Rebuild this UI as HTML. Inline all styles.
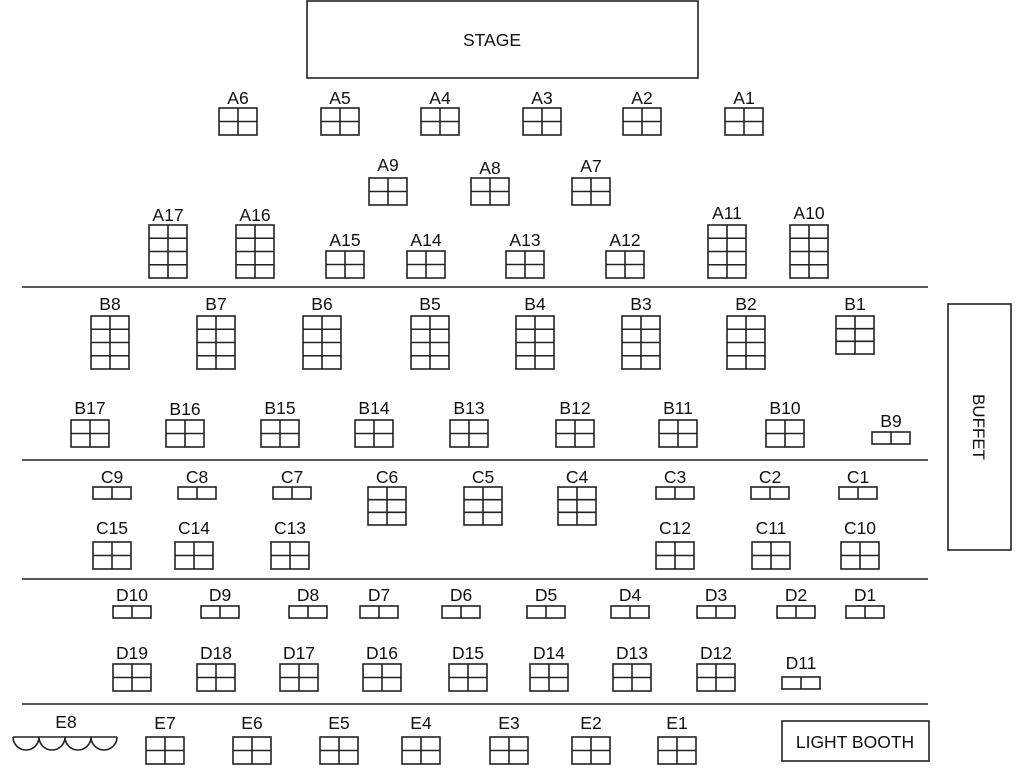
<!DOCTYPE html>
<html><head><meta charset="utf-8"><style>
html,body{margin:0;padding:0;background:#fff}
svg{display:block}
text{font-family:"Liberation Sans",sans-serif;font-size:17.5px;fill:#111;text-anchor:middle}
</style></head><body>
<svg width="1024" height="783" viewBox="0 0 1024 783" xmlns="http://www.w3.org/2000/svg">
<defs>
<g id="t4" fill="none" stroke="#222" stroke-width="1.6"><rect x="0" y="0" width="38" height="27"/><line x1="19" y1="0" x2="19" y2="27"/><line x1="0" y1="13.5" x2="38" y2="13.5"/></g>
<g id="t8" fill="none" stroke="#222" stroke-width="1.6"><rect x="0" y="0" width="38" height="53"/><line x1="19" y1="0" x2="19" y2="53"/><line x1="0" y1="13.25" x2="38" y2="13.25"/><line x1="0" y1="26.5" x2="38" y2="26.5"/><line x1="0" y1="39.75" x2="38" y2="39.75"/></g>
<g id="t6" fill="none" stroke="#222" stroke-width="1.6"><rect x="0" y="0" width="38" height="38"/><line x1="19" y1="0" x2="19" y2="38"/><line x1="0" y1="12.7" x2="38" y2="12.7"/><line x1="0" y1="25.3" x2="38" y2="25.3"/></g>
<g id="t2" fill="none" stroke="#222" stroke-width="1.6"><rect x="0" y="0" width="38" height="12"/><line x1="19" y1="0" x2="19" y2="12"/></g>
</defs>
<g fill="none" stroke="#222" stroke-width="1.6">
<rect x="307" y="1" width="391" height="77"/>
<rect x="948" y="304" width="63" height="246"/>
<rect x="782" y="721" width="147" height="40"/>
<line x1="22" y1="287" x2="928" y2="287"/>
<line x1="22" y1="460" x2="928" y2="460"/>
<line x1="22" y1="579" x2="928" y2="579"/>
<line x1="22" y1="704" x2="928" y2="704"/>
<path d="M13 737 H117 M13 737 A13 13 0 0 0 39 737 A13 13 0 0 0 65 737 A13 13 0 0 0 91 737 A13 13 0 0 0 117 737"/>
</g>
<text x="492" y="46" style="font-size:17.5px">STAGE</text>
<text x="855" y="748" style="font-size:17.5px">LIGHT BOOTH</text>
<text transform="translate(973,427) rotate(90)" style="font-size:17px">BUFFET</text>

<use href="#t4" x="219" y="108"/><text x="238" y="104">A6</text>
<use href="#t4" x="321" y="108"/><text x="340" y="104">A5</text>
<use href="#t4" x="421" y="108"/><text x="440" y="104">A4</text>
<use href="#t4" x="523" y="108"/><text x="542" y="104">A3</text>
<use href="#t4" x="623" y="108"/><text x="642" y="104">A2</text>
<use href="#t4" x="725" y="108"/><text x="744" y="104">A1</text>
<use href="#t4" x="369" y="178"/><text x="388" y="171">A9</text>
<use href="#t4" x="471" y="178"/><text x="490" y="174">A8</text>
<use href="#t4" x="572" y="178"/><text x="591" y="172">A7</text>
<use href="#t8" x="149" y="225"/><text x="168" y="221">A17</text>
<use href="#t8" x="236" y="225"/><text x="255" y="221">A16</text>
<use href="#t8" x="708" y="225"/><text x="727" y="219">A11</text>
<use href="#t8" x="790" y="225"/><text x="809" y="219">A10</text>
<use href="#t4" x="326" y="251"/><text x="345" y="246">A15</text>
<use href="#t4" x="407" y="251"/><text x="426" y="246">A14</text>
<use href="#t4" x="506" y="251"/><text x="525" y="246">A13</text>
<use href="#t4" x="606" y="251"/><text x="625" y="246">A12</text>

<use href="#t8" x="91" y="316"/><text x="110" y="310">B8</text>
<use href="#t8" x="197" y="316"/><text x="216" y="310">B7</text>
<use href="#t8" x="303" y="316"/><text x="322" y="310">B6</text>
<use href="#t8" x="411" y="316"/><text x="430" y="310">B5</text>
<use href="#t8" x="516" y="316"/><text x="535" y="310">B4</text>
<use href="#t8" x="622" y="316"/><text x="641" y="310">B3</text>
<use href="#t8" x="727" y="316"/><text x="746" y="310">B2</text>
<use href="#t6" x="836" y="316"/><text x="855" y="310">B1</text>
<use href="#t4" x="71" y="420"/><text x="90" y="414">B17</text>
<use href="#t4" x="166" y="420"/><text x="185" y="415">B16</text>
<use href="#t4" x="261" y="420"/><text x="280" y="414">B15</text>
<use href="#t4" x="355" y="420"/><text x="374" y="414">B14</text>
<use href="#t4" x="450" y="420"/><text x="469" y="414">B13</text>
<use href="#t4" x="556" y="420"/><text x="575" y="414">B12</text>
<use href="#t4" x="659" y="420"/><text x="678" y="414">B11</text>
<use href="#t4" x="766" y="420"/><text x="785" y="414">B10</text>
<use href="#t2" x="872" y="432"/><text x="891" y="427">B9</text>

<use href="#t2" x="93" y="487"/><text x="112" y="483">C9</text>
<use href="#t2" x="178" y="487"/><text x="197" y="483">C8</text>
<use href="#t2" x="273" y="487"/><text x="292" y="483">C7</text>
<use href="#t6" x="368" y="487"/><text x="387" y="483">C6</text>
<use href="#t6" x="464" y="487"/><text x="483" y="483">C5</text>
<use href="#t6" x="558" y="487"/><text x="577" y="483">C4</text>
<use href="#t2" x="656" y="487"/><text x="675" y="483">C3</text>
<use href="#t2" x="751" y="487"/><text x="770" y="483">C2</text>
<use href="#t2" x="839" y="487"/><text x="858" y="483">C1</text>
<use href="#t4" x="93" y="542"/><text x="112" y="534">C15</text>
<use href="#t4" x="175" y="542"/><text x="194" y="534">C14</text>
<use href="#t4" x="271" y="542"/><text x="290" y="534">C13</text>
<use href="#t4" x="656" y="542"/><text x="675" y="534">C12</text>
<use href="#t4" x="752" y="542"/><text x="771" y="534">C11</text>
<use href="#t4" x="841" y="542"/><text x="860" y="534">C10</text>

<use href="#t2" x="113" y="606"/><text x="132" y="601">D10</text>
<use href="#t2" x="201" y="606"/><text x="220" y="601">D9</text>
<use href="#t2" x="289" y="606"/><text x="308" y="601">D8</text>
<use href="#t2" x="360" y="606"/><text x="379" y="601">D7</text>
<use href="#t2" x="442" y="606"/><text x="461" y="601">D6</text>
<use href="#t2" x="527" y="606"/><text x="546" y="601">D5</text>
<use href="#t2" x="611" y="606"/><text x="630" y="601">D4</text>
<use href="#t2" x="697" y="606"/><text x="716" y="601">D3</text>
<use href="#t2" x="777" y="606"/><text x="796" y="601">D2</text>
<use href="#t2" x="846" y="606"/><text x="865" y="601">D1</text>
<use href="#t4" x="113" y="664"/><text x="132" y="659">D19</text>
<use href="#t4" x="197" y="664"/><text x="216" y="659">D18</text>
<use href="#t4" x="280" y="664"/><text x="299" y="659">D17</text>
<use href="#t4" x="363" y="664"/><text x="382" y="659">D16</text>
<use href="#t4" x="449" y="664"/><text x="468" y="659">D15</text>
<use href="#t4" x="530" y="664"/><text x="549" y="659">D14</text>
<use href="#t4" x="613" y="664"/><text x="632" y="659">D13</text>
<use href="#t4" x="697" y="664"/><text x="716" y="659">D12</text>
<use href="#t2" x="782" y="677"/><text x="801" y="669">D11</text>

<text x="66" y="728">E8</text>
<use href="#t4" x="146" y="737"/><text x="165" y="729">E7</text>
<use href="#t4" x="233" y="737"/><text x="252" y="729">E6</text>
<use href="#t4" x="320" y="737"/><text x="339" y="729">E5</text>
<use href="#t4" x="402" y="737"/><text x="421" y="729">E4</text>
<use href="#t4" x="490" y="737"/><text x="509" y="729">E3</text>
<use href="#t4" x="572" y="737"/><text x="591" y="729">E2</text>
<use href="#t4" x="658" y="737"/><text x="677" y="729">E1</text>
</svg>
</body></html>
